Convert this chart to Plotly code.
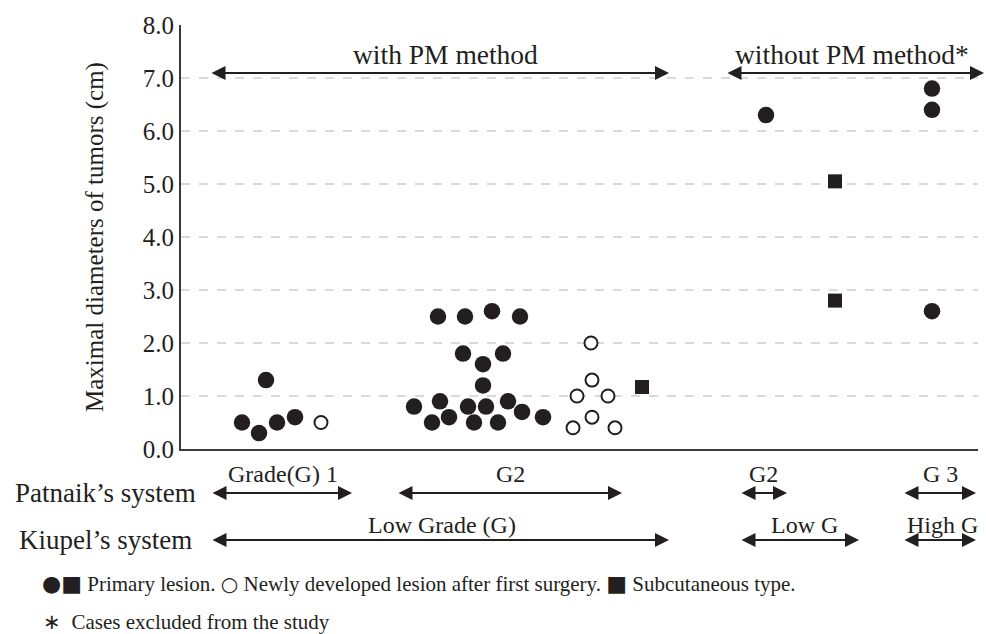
import plotly.graph_objects as go

# ---- data (x = horizontal jitter position of each lesion, y = max diameter in cm) ----
g1_primary_x = [242, 259, 266, 277, 295]
g1_primary_y = [0.5, 0.3, 1.3, 0.5, 0.6]
g1_new_x = [321]
g1_new_y = [0.5]

g2_primary_x = [438, 465, 492, 520, 463, 503, 483, 483, 414, 440, 468, 486, 508, 522, 543, 432, 449, 474, 498]
g2_primary_y = [2.5, 2.5, 2.6, 2.5, 1.8, 1.8, 1.6, 1.2, 0.8, 0.9, 0.8, 0.8, 0.9, 0.7, 0.6, 0.5, 0.6, 0.5, 0.5]
g2_new_x = [591, 592, 577, 608, 592, 573, 615]
g2_new_y = [2.0, 1.3, 1.0, 1.0, 0.6, 0.4, 0.4]
g2_subcut_x = [642]
g2_subcut_y = [1.17]

excl_primary_x = [766, 932, 932, 932]
excl_primary_y = [6.3, 6.8, 6.4, 2.6]
excl_subcut_x = [835, 835]
excl_subcut_y = [5.05, 2.8]

y_ticks = [0, 1, 2, 3, 4, 5, 6, 7, 8]
y_tick_labels = ["0.0", "1.0", "2.0", "3.0", "4.0", "5.0", "6.0", "7.0", "8.0"]

INK = "#231f20"
FONT = "Liberation Serif"

X0, X1 = 181, 978          # x-axis range (horizontal layout units)
PLOT_TOP, PLOT_BOTTOM = 25, 449

fig = go.Figure()

fig.add_trace(go.Scatter(
    x=g1_primary_x + g2_primary_x + excl_primary_x,
    y=g1_primary_y + g2_primary_y + excl_primary_y,
    mode="markers", marker=dict(symbol="circle", size=16.5, color=INK, line=dict(width=0)),
    cliponaxis=False, showlegend=False, hoverinfo="skip"))
fig.add_trace(go.Scatter(
    x=g1_new_x + g2_new_x, y=g1_new_y + g2_new_y,
    mode="markers", marker=dict(symbol="circle", size=13, color="white", line=dict(width=2, color=INK)),
    cliponaxis=False, showlegend=False, hoverinfo="skip"))
fig.add_trace(go.Scatter(
    x=g2_subcut_x + excl_subcut_x, y=g2_subcut_y + excl_subcut_y,
    mode="markers", marker=dict(symbol="square", size=14, color=INK, line=dict(width=0)),
    cliponaxis=False, showlegend=False, hoverinfo="skip"))

ann = []

def px2paper(px):
    return (px - X0) / float(X1 - X0)

def py2paper(py):
    return (PLOT_BOTTOM - py) / float(PLOT_BOTTOM - PLOT_TOP)

def arrow(x0, x1, py):
    ann.append(dict(x=px2paper(x1), y=py2paper(py), ax=x0 - x1, ay=0,
                    xref="paper", yref="paper", axref="pixel", ayref="pixel",
                    text="", showarrow=True, arrowhead=2, arrowside="end+start",
                    arrowsize=1.4, arrowwidth=2, arrowcolor=INK))

def label(x, py, text, size, xanchor="center"):
    ann.append(dict(x=px2paper(x), y=py2paper(py), xref="paper", yref="paper", text=text,
                    showarrow=False, xanchor=xanchor, yanchor="middle",
                    font=dict(family=FONT, size=size, color=INK)))

# top arrows
arrow(210, 669, 73)
label(445, 54, "with PM method", 27.5)
arrow(726, 984, 73)
label(852, 54, "without PM method*", 27.5)

# Patnaik's system row
label(105, 493, "Patnaik’s system", 27)
arrow(211, 352, 493)
label(283, 474, "Grade(G) 1", 24)
arrow(397, 622, 493)
label(510, 474, "G2", 24)
arrow(740, 787, 493)
label(763, 474, "G2", 24)
arrow(903, 976, 493)
label(940, 474, "G 3", 24)

# Kiupel's system row
label(105, 540, "Kiupel’s system", 27)
arrow(211, 669, 540)
label(442, 525, "Low Grade (G)", 24)
arrow(740, 859, 540)
label(804, 525, "Low G", 24)
arrow(903, 976, 540)
label(942, 525, "High G", 24)

# footnotes
glyph = "<span style='font-family:DejaVu Sans;font-size:%dpx'>%s</span>"
label(40, 583,
      glyph % (22, "●■") + " Primary lesion. " + glyph % (20, "○")
      + " Newly developed lesion after first surgery. " + glyph % (22, "■") + " Subcutaneous type.",
      21, xanchor="left")
label(41, 622, "∗  Cases excluded from the study", 21, xanchor="left")

fig.update_layout(
    width=986, height=634,
    margin=dict(l=X0, r=986 - X1, t=PLOT_TOP, b=634 - PLOT_BOTTOM),
    plot_bgcolor="white", paper_bgcolor="white",
    font=dict(family=FONT, color=INK),
    annotations=ann,
    showlegend=False,
    hovermode=False,
)
fig.update_xaxes(range=[X0, X1], showgrid=False, zeroline=False, showticklabels=False,
                 showline=True, linecolor="#3a3a3a", linewidth=2, ticks="")
fig.update_yaxes(range=[0, 8], tickvals=y_ticks, ticktext=y_tick_labels,
                 tickfont=dict(family=FONT, size=25, color=INK),
                 showgrid=True, gridcolor="#d9d9d9", gridwidth=1.5, griddash="dash",
                 zeroline=False, showline=True, linecolor="#3a3a3a", linewidth=2, ticks="",
                 title=dict(text="Maximal diameters of tumors (cm)", font=dict(family=FONT, size=25, color=INK), standoff=32))

fig.write_html("out.html", config={"displayModeBar": False},
               post_script="document.body.style.margin='0';document.body.style.overflow='hidden';")
